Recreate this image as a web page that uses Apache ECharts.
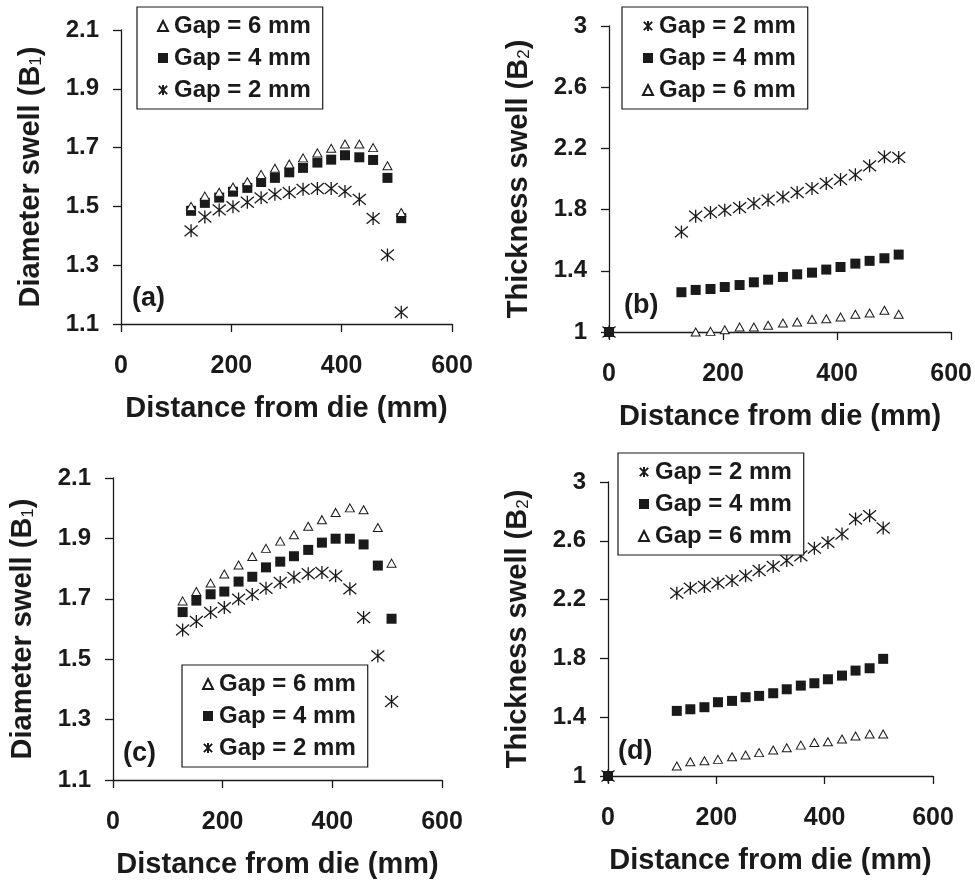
<!DOCTYPE html>
<html>
<head>
<meta charset="utf-8">
<script src="https://cdn.jsdelivr.net/npm/echarts@6/dist/echarts.min.js"></script>
<style>
  html, body { margin: 0; padding: 0; background: #fff; }
  #chart { width: 975px; height: 883px; }
</style>
</head>
<body>
<div id="chart"></div>
<script>
// distance from die (mm) - 1 inch steps
const dist = [127, 152, 178, 203, 229, 254, 279, 305, 330, 356, 381, 406, 432, 457, 483, 508];
const xTicks = [0, 200, 400, 600];

// (a) diameter swell
const aGap6 = [1.500, 1.535, 1.548, 1.566, 1.584, 1.609, 1.630, 1.644, 1.665, 1.682, 1.698, 1.712, 1.712, 1.700, 1.638, 1.479];
const aGap4 = [1.485, 1.512, 1.530, 1.550, 1.563, 1.583, 1.597, 1.616, 1.631, 1.649, 1.659, 1.674, 1.667, 1.658, 1.597, 1.460];
const aGap2 = [1.417, 1.464, 1.488, 1.499, 1.514, 1.529, 1.541, 1.547, 1.558, 1.561, 1.561, 1.551, 1.524, 1.459, 1.335, 1.140];

// (b) thickness swell (gap 6 starts at second station)
const bGap2 = [1.654, 1.757, 1.781, 1.796, 1.813, 1.840, 1.862, 1.883, 1.912, 1.938, 1.971, 1.997, 2.027, 2.086, 2.145, 2.141];
const bGap4 = [1.260, 1.275, 1.281, 1.294, 1.307, 1.325, 1.342, 1.360, 1.377, 1.388, 1.408, 1.425, 1.447, 1.465, 1.482, 1.506];
const bGap6 = [1.000, 1.004, 1.015, 1.033, 1.033, 1.044, 1.059, 1.065, 1.083, 1.087, 1.098, 1.116, 1.124, 1.142, 1.116];

// (c) diameter swell
const cGap6 = [1.693, 1.724, 1.752, 1.782, 1.812, 1.840, 1.867, 1.891, 1.912, 1.940, 1.962, 1.986, 2.001, 1.995, 1.936, 1.818];
const cGap4 = [1.656, 1.694, 1.715, 1.724, 1.757, 1.773, 1.804, 1.823, 1.841, 1.862, 1.886, 1.899, 1.899, 1.880, 1.810, 1.634];
const cGap2 = [1.597, 1.625, 1.655, 1.671, 1.699, 1.714, 1.735, 1.754, 1.771, 1.783, 1.787, 1.776, 1.733, 1.638, 1.511, 1.360];

// (d) thickness swell
const dGap2 = [2.244, 2.278, 2.289, 2.312, 2.330, 2.362, 2.398, 2.426, 2.466, 2.498, 2.550, 2.589, 2.646, 2.748, 2.771, 2.687];
const dGap4 = [1.443, 1.454, 1.468, 1.502, 1.511, 1.536, 1.545, 1.563, 1.590, 1.615, 1.631, 1.658, 1.683, 1.717, 1.733, 1.797];
const dGap6 = [1.068, 1.097, 1.104, 1.113, 1.131, 1.143, 1.159, 1.177, 1.192, 1.210, 1.228, 1.233, 1.252, 1.272, 1.286, 1.286];

// value at the die exit for thickness panels
const origin = [0, 1];

const names = { g2: 'Gap = 2 mm', g4: 'Gap = 4 mm', g6: 'Gap = 6 mm' };
const FONT = '"Liberation Sans", Arial, sans-serif';
const INK = '#1a1a1a';

const STAR = 'path://M0,0L10,10M10,0L0,10M5,-1L5,11';
const marks = {
  g6: { symbol: 'triangle', symbolSize: [9, 8], itemStyle: { color: '#fff', borderColor: INK, borderWidth: 1, opacity: 1 } },
  g4: { symbol: 'rect', symbolSize: 10, itemStyle: { color: INK, borderWidth: 0, opacity: 1 } },
  g2: { symbol: STAR, symbolSize: 13, itemStyle: { color: 'transparent', borderColor: INK, borderWidth: 1.3, opacity: 1 } }
};

function pts(xs, ys, withOrigin) {
  const out = ys.map((v, i) => [xs[i], v]);
  if (withOrigin) out.unshift(origin);
  return out;
}

function sc(key, idx, data) {
  return Object.assign({
    name: names[key],
    type: 'scatter',
    xAxisIndex: idx,
    yAxisIndex: idx,
    data: data,
    clip: false,
    emphasis: { disabled: true }
  }, marks[key]);
}

const grids = [
  { left: 121, top: 30, width: 331, height: 294 },
  { left: 609, top: 26, width: 343, height: 306 },
  { left: 113, top: 478, width: 329, height: 302 },
  { left: 608, top: 482, width: 325, height: 294 }
];

function xAx(i) {
  return {
    gridIndex: i, type: 'value', min: 0, max: 600, interval: 200,
    name: 'Distance from die (mm)', nameLocation: 'middle', nameGap: 70,
    nameTextStyle: { fontFamily: FONT, fontWeight: 'bold', fontSize: 29, color: INK },
    axisLine: { lineStyle: { color: INK, width: 1.3 } },
    axisTick: { show: true, inside: false, length: 8, lineStyle: { color: INK, width: 1.3 } },
    axisLabel: { margin: 30, fontFamily: FONT, fontWeight: 'bold', fontSize: 25, color: INK },
    splitLine: { show: false }
  };
}

function yAx(i, thick) {
  const base = thick ? 'Thickness swell (B' : 'Diameter swell (B';
  const sub = thick ? '2' : '1';
  return {
    gridIndex: i, type: 'value',
    min: thick ? 1 : 1.1, max: thick ? 3 : 2.1, interval: thick ? 0.4 : 0.2,
    name: '{t|' + base + '}{s|' + sub + '}{t|)}',
    nameLocation: 'middle', nameGap: 76,
    nameTextStyle: {
      rich: {
        t: { fontFamily: FONT, fontWeight: 'bold', fontSize: 29, color: INK },
        s: { fontFamily: FONT, fontWeight: 'normal', fontSize: 17, color: INK, padding: [12, 0, 0, 0] }
      }
    },
    axisLine: { show: true, onZero: false, lineStyle: { color: INK, width: 1.3 } },
    axisTick: { show: true, inside: false, length: 8, lineStyle: { color: INK, width: 1.3 } },
    axisLabel: {
      margin: 22, fontFamily: FONT, fontWeight: 'bold', fontSize: 24, color: INK,
      formatter: v => thick ? String(Math.round(v * 10) / 10) : v.toFixed(1)
    },
    splitLine: { show: false }
  };
}

function leg(i, order, left, top) {
  return {
    data: order.map(k => names[k]),
    orient: 'vertical', left: left, top: top,
    backgroundColor: '#fff', borderColor: INK, borderWidth: 1.2, borderRadius: 0,
    padding: [7, 12, 7, 20], itemGap: 8, itemWidth: 10, itemHeight: 10,
    selectedMode: false,
    textStyle: { fontFamily: FONT, fontWeight: 'bold', fontSize: 24, color: INK, padding: [0, 0, 0, 1] }
  };
}

function tag(text, x, y) {
  return {
    type: 'text', left: x, top: y,
    style: { text: text, font: 'bold 27px ' + FONT, fill: INK }
  };
}

const option = {
  backgroundColor: '#fff',
  animation: false,
  grid: grids,
  xAxis: [0, 1, 2, 3].map(xAx),
  yAxis: [yAx(0, false), yAx(1, true), yAx(2, false), yAx(3, true)],
  legend: [
    leg(0, ['g6', 'g4', 'g2'], 137, 7),
    leg(1, ['g2', 'g4', 'g6'], 622, 7),
    leg(2, ['g6', 'g4', 'g2'], 182, 665),
    leg(3, ['g2', 'g4', 'g6'], 618, 453)
  ],
  graphic: [
    tag('(a)', 132, 285),
    tag('(b)', 624, 292),
    tag('(c)', 123, 740),
    tag('(d)', 618, 738)
  ],
  series: [
    sc('g2', 0, pts(dist, aGap2)),
    sc('g4', 0, pts(dist, aGap4)),
    sc('g6', 0, pts(dist, aGap6)),

    sc('g6', 1, pts(dist.slice(1), bGap6, true)),
    sc('g2', 1, pts(dist, bGap2, true)),
    sc('g4', 1, pts(dist, bGap4, true)),

    sc('g2', 2, pts(dist, cGap2)),
    sc('g4', 2, pts(dist, cGap4)),
    sc('g6', 2, pts(dist, cGap6)),

    sc('g6', 3, pts(dist, dGap6, true)),
    sc('g2', 3, pts(dist, dGap2, true)),
    sc('g4', 3, pts(dist, dGap4, true))
  ]
};

const chart = echarts.init(document.getElementById('chart'), null, { renderer: 'canvas' });
chart.setOption(option);
</script>
</body>
</html>
